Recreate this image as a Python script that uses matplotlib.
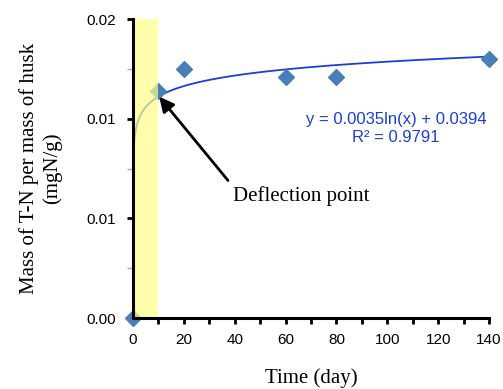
import numpy as np
import matplotlib
matplotlib.use("Agg")
import matplotlib.pyplot as plt
from matplotlib.ticker import MultipleLocator, FuncFormatter

# measured points (time in days, mass of T-N per mass of husk)
days = [0, 10, 20, 60, 80, 140]
tn_mass = [0.0, 0.0114, 0.0125, 0.0121, 0.0121, 0.0130]

# log trendline as drawn in the picture
trend_a = 0.00076
trend_b = 0.00936
eq_text = "y = 0.0035ln(x) + 0.0394\nR\u00b2 = 0.9791"

serif = ["Liberation Serif", "DejaVu Serif"]
sans = ["Liberation Sans", "DejaVu Sans"]

fig = plt.figure(figsize=(5.03, 3.89), dpi=100)
ax = fig.add_axes([0.2644, 0.1825, 0.7078, 0.7686])

xs = np.concatenate([[1e-9], np.logspace(-8, np.log10(140), 400)])
ys = trend_a * np.log(xs) + trend_b
ys = np.clip(ys, 0, None)
ax.plot(xs, ys, color="#1a3fd6", lw=1.3, zorder=2)

ax.scatter(days, tn_mass, marker="D", s=65, color="#4a7ebb", zorder=3, clip_on=False)

# highlighted early period, drawn over the curve
ax.axvspan(0.5, 10, color="#ffff88", alpha=0.7, lw=0, zorder=4)

ax.set_xlim(0, 140)
ax.set_ylim(0, 0.015)
ax.xaxis.set_major_locator(MultipleLocator(20))
ax.xaxis.set_minor_locator(MultipleLocator(10))
ax.yaxis.set_major_locator(MultipleLocator(0.005))
ax.yaxis.set_minor_locator(MultipleLocator(0.0025))
ax.yaxis.set_major_formatter(FuncFormatter(lambda v, p: f"{v + 1e-9:.2f}"))

for s in ["top", "right"]:
    ax.spines[s].set_visible(False)
for s in ["left", "bottom"]:
    ax.spines[s].set_linewidth(2.2)
    ax.spines[s].set_zorder(5)
ax.tick_params(which="both", direction="out", width=2, length=4, color="black")
ax.tick_params(axis="y", which="minor", width=1, color="#aaaaaa", length=4)
ax.tick_params(labelsize=11)
ax.tick_params(axis="x", pad=7)
ax.tick_params(axis="y", pad=8)
for lab in ax.get_xticklabels() + ax.get_yticklabels():
    lab.set_family(sans)

ax.set_xlabel("Time (day)", family=serif, fontsize=15, labelpad=15)
ax.set_ylabel("Mass of T-N per mass of husk\n(mgN/g)", family=serif, fontsize=15,
              labelpad=18, linespacing=1.2)

ax.text(103.4, 0.00953, eq_text, color="#1a3fd6", family=sans, fontsize=12,
        ha="center", va="center", linespacing=1.25)

ax.annotate("Deflection point", xy=(10.3, 0.0111), xytext=(39.3, 0.0061),
            family=serif, fontsize=15, ha="left", va="center",
            arrowprops=dict(arrowstyle="-|>", color="black", lw=2,
                            mutation_scale=22, shrinkA=3, shrinkB=0,
                            relpos=(0.0, 1.0)),
            zorder=7)

fig.savefig("out.png", dpi=100)
